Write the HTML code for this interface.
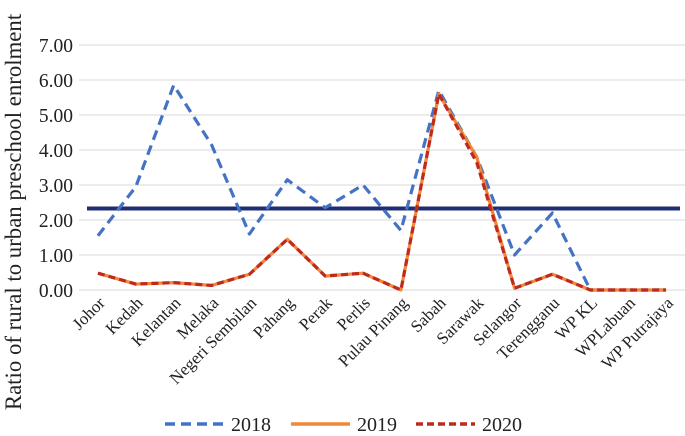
<!DOCTYPE html>
<html><head><meta charset="utf-8"><style>
body{margin:0;background:#fff}
svg{display:block;font-family:"Liberation Serif",serif}
</style></head><body>
<svg id="c" width="685" height="436"></svg>
<script>
const categories=["Johor","Kedah","Kelantan","Melaka","Negeri Sembilan","Pahang","Perak","Perlis","Pulau Pinang","Sabah","Sarawak","Selangor","Terengganu","WP KL","WPLabuan","WP Putrajaya"];
const s2018=[1.55,2.95,5.85,4.15,1.6,3.15,2.35,3.0,1.7,5.7,3.8,1.0,2.2,0,0,0];
const s2019=[0.48,0.17,0.21,0.13,0.45,1.45,0.4,0.48,0,5.6,3.8,0.05,0.45,0,0,0];
const s2020=[0.48,0.17,0.21,0.13,0.45,1.45,0.4,0.48,0,5.6,3.65,0.05,0.45,0,0,0];
const meanValue=2.33;
const yTicks=[0,1,2,3,4,5,6,7];
const NS="http://www.w3.org/2000/svg";
const svg=document.getElementById('c');
const x0=79,x1=685,yb=290,ppu=35;
const step=(x1-x0)/categories.length;
const X=i=>x0+step*(i+0.5);
const Y=v=>yb-v*ppu;
function el(t,a,p){const e=document.createElementNS(NS,t);for(const k in a)e.setAttribute(k,a[k]);(p||svg).appendChild(e);return e;}
yTicks.forEach(t=>{
 const g=el('line',{x1:x0,x2:x1,y1:Y(t),y2:Y(t),stroke:'#d9d9d9','stroke-width':1});
 
 
 const l=el('text',{x:73,y:Y(t)+7,'text-anchor':'end','font-size':19.5,fill:'#222'});
 l.textContent=t.toFixed(2);
 
 
});
categories.forEach((c,i)=>{
 const t=el('text',{transform:`translate(${X(i)+8},${yb+14}) rotate(-45)`,'text-anchor':'end','font-size':17,fill:'#222'});
 t.textContent=c;
 
 
});
const ml=el('line',{x1:87,x2:680,y1:Y(meanValue),y2:Y(meanValue),stroke:'#1f2e73','stroke-width':4});


function series(d,color,dash,w,name){
 const p=el('polyline',{points:d.map((v,i)=>X(i)+','+Y(v)).join(' '),fill:'none',stroke:color,'stroke-width':w,'stroke-dasharray':dash,'stroke-linejoin':'round'});
 
 
}
series(s2018,'#4472c4','10,6',3.2,'series-2018');
series(s2019,'#f0883a','none',3.2,'series-2019');
series(s2020,'#c0291f','7,4',3.2,'series-2020');
const yt=el('text',{transform:'translate(21,212) rotate(-90)','text-anchor':'middle','font-size':22.8,fill:'#222'});
yt.textContent='Ratio of rural to urban preschool enrolment';


const leg=[["2018",'#4472c4','10,6',165],["2019",'#f0883a','none',291],["2020",'#c0291f','7,4',416]];
leg.forEach(([n,c,d,x])=>{
 const g=el('g',{});
 
 
 el('line',{x1:x,x2:x+59,y1:424,y2:424,stroke:c,'stroke-width':3.5,'stroke-dasharray':d},g);
 const t=el('text',{x:x+66,y:431,'font-size':20,fill:'#222'},g);t.textContent=n;
});
</script>
</body></html>
